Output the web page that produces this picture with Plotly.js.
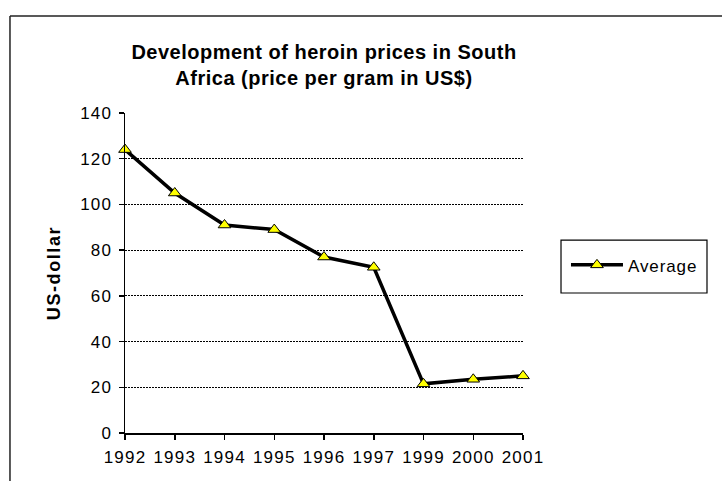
<!DOCTYPE html>
<html>
<head>
<meta charset="utf-8">
<script src="https://cdn.plot.ly/plotly-3.0.1.min.js"></script>
<style>
  html, body { margin: 0; padding: 0; background: #fff; }
  #chart { width: 722px; height: 481px; }
  .gtitle { letter-spacing: 0.5px; }
  .xtick text, .ytick text { letter-spacing: 1.2px; }
  .ytitle { letter-spacing: 1.6px; }
  .legendtext { letter-spacing: 0.9px; }
</style>
</head>
<body>
<div id="chart"></div>
<script>
// Data
const years = ['1992', '1993', '1994', '1995', '1996', '1997', '1999', '2000', '2001'];
const average = [124, 105, 91, 89, 77, 72.5, 21.5, 23.5, 25];
const seriesName = 'Average';
const yTicks = [0, 20, 40, 60, 80, 100, 120, 140];

const FONT = 'Liberation Sans, Arial, sans-serif';

const trace = {
  type: 'scatter',
  mode: 'lines+markers',
  x: years,
  y: average,
  name: seriesName,
  cliponaxis: false,
  line: { color: '#000000', width: 3.5 },
  marker: { symbol: 'triangle-up', size: 11, color: '#FFFF00', line: { color: '#000000', width: 1 } }
};

const layout = {
  width: 722,
  height: 481,
  margin: { l: 125, r: 199, t: 113, b: 48 },
  paper_bgcolor: '#ffffff',
  plot_bgcolor: '#ffffff',
  font: { family: FONT, color: '#000000', size: 17 },
  title: {
    text: 'Development of heroin prices in South<br>Africa (price per gram in US$)',
    font: { family: FONT, size: 20, weight: 'bold', color: '#000000' },
    xref: 'paper', x: 0.5, xanchor: 'center',
    yref: 'container', y: 0.878, yanchor: 'middle'
  },
  xaxis: {
    type: 'category',
    range: [0, years.length - 1],
    showgrid: false,
    showline: true, linecolor: '#000000', linewidth: 1.5,
    ticks: 'outside', ticklen: 5, tickcolor: '#000000', tickwidth: 1.5,
    ticklabelstandoff: 3,
    tickfont: { family: FONT, size: 17, color: '#000000' },
    zeroline: false,
    fixedrange: true
  },
  yaxis: {
    range: [0, 140],
    tickvals: yTicks,
    showgrid: true, gridcolor: '#000000', gridwidth: 1, griddash: '2px,1px',
    showline: true, linecolor: '#000000', linewidth: 1.5,
    ticks: 'outside', ticklen: 5, tickcolor: '#000000', tickwidth: 1.5,
    ticklabelstandoff: 3,
    tickfont: { family: FONT, size: 17, color: '#000000' },
    zeroline: false,
    title: { text: 'US-dollar', font: { family: FONT, size: 18, weight: 'bold', color: '#000000' }, standoff: 15 },
    fixedrange: true
  },
  showlegend: true,
  legend: {
    x: 1.108, xanchor: 'left',
    y: 0.524, yanchor: 'middle',
    itemwidth: 52,
    bgcolor: 'rgba(0,0,0,0)',
    borderwidth: 0,
    font: { family: FONT, size: 17, color: '#000000' }
  },
  shapes: [
    // legend box
    { type: 'rect', xref: 'paper', yref: 'paper', x0: 1.0955, x1: 1.4623, y0: 0.4375, y1: 0.603,
      line: { color: '#000000', width: 1.2 }, fillcolor: 'rgba(0,0,0,0)' },
    // outer chart frame (left and top edges visible)
    { type: 'line', xref: 'paper', yref: 'paper', x0: -0.289, x1: -0.289, y0: -0.3, y1: 1.303,
      line: { color: '#222222', width: 1.5 } },
    { type: 'line', xref: 'paper', yref: 'paper', x0: -0.289, x1: 1.6, y0: 1.303, y1: 1.303,
      line: { color: '#222222', width: 1.5 } }
  ]
};

Plotly.newPlot('chart', [trace], layout, { displayModeBar: false, staticPlot: true });
</script>
</body>
</html>
